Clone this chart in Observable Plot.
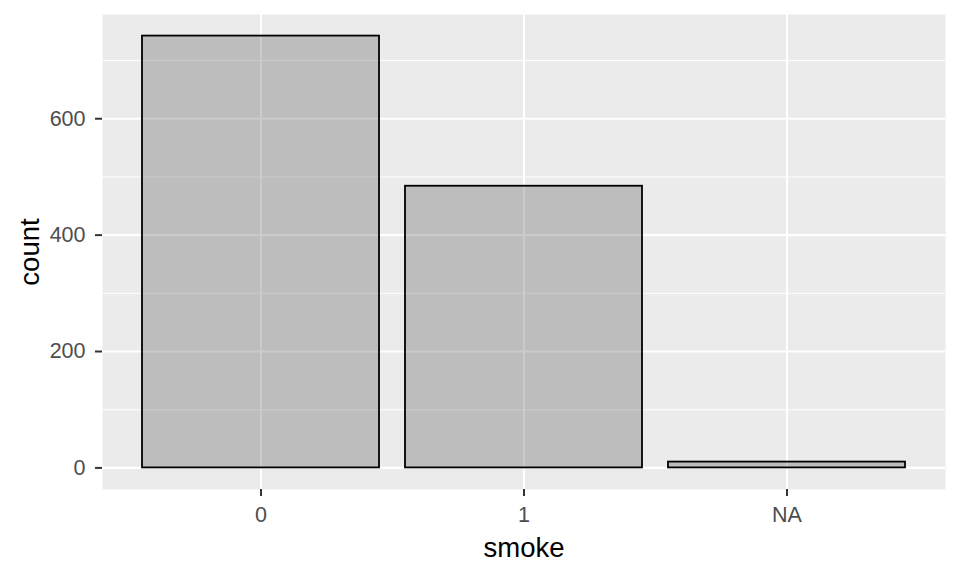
<!DOCTYPE html>
<html>
<head>
<meta charset="utf-8">
<script src="https://cdn.jsdelivr.net/npm/d3@7"></script>
<script src="https://cdn.jsdelivr.net/npm/@observablehq/plot@0.6"></script>
<style>
  html, body { margin: 0; padding: 0; background: #fff; }
  #chart svg { display: block; font-family: "Liberation Sans", Arial, sans-serif; }
</style>
</head>
<body>
<div id="chart"></div>
<script>
const categories = ["0", "1", "NA"];
const counts = [742, 484, 10];
const majorTicks = [0, 200, 400, 600];
const minorTicks = [100, 300, 500, 700];

const data = categories.map((c, i) => ({smoke: c, count: counts[i]}));
const maxCount = d3.max(counts);
const yDomain = [-0.05 * maxCount, 1.05 * maxCount];

const chart = Plot.plot({
  width: 960,
  height: 576,
  marginLeft: 102,
  marginRight: 15,
  marginTop: 14,
  marginBottom: 87,
  style: {fontFamily: "Liberation Sans, Arial, sans-serif", fontSize: "21.5px", background: "#fff"},
  x: {domain: categories, paddingInner: 0.1, paddingOuter: 0.15, label: null},
  y: {domain: yDomain, label: null},
  marks: [
    Plot.frame({fill: "#EBEBEB", stroke: "none"}),
    Plot.ruleY(minorTicks, {stroke: "white", strokeWidth: 1.1}),
    Plot.ruleY(majorTicks, {stroke: "white", strokeWidth: 2.1}),
    Plot.gridX({stroke: "white", strokeOpacity: 1, strokeWidth: 2.1}),
    Plot.barY(data, {x: "smoke", y: "count", fill: "#525252", fillOpacity: 0.3, stroke: "black", strokeWidth: 1.8}),
    Plot.axisY(majorTicks, {tickSize: 7, tickPadding: 10, strokeWidth: 2, stroke: "#333333", fill: "#4D4D4D", fontSize: 21.5, label: null}),
    Plot.axisX({tickSize: 7, tickPadding: 10, strokeWidth: 2, stroke: "#333333", fill: "#4D4D4D", fontSize: 21.5, label: null}),
    Plot.text(["smoke"], {frameAnchor: "bottom", lineAnchor: "bottom", dy: 67, fontSize: 27.5, fill: "black"}),
    Plot.text(["count"], {frameAnchor: "left", textAnchor: "middle", lineAnchor: "middle", dx: -72.5, rotate: -90, fontSize: 27.5, fill: "black"})
  ]
});
document.getElementById("chart").appendChild(chart);
</script>
</body>
</html>
